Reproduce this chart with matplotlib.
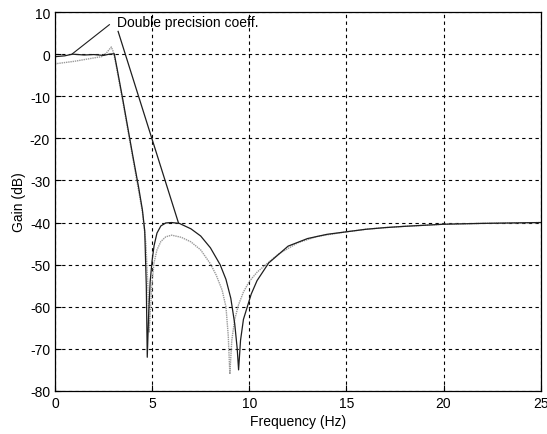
import matplotlib.pyplot as plt

plt.rcParams['font.family'] = ['Liberation Sans', 'DejaVu Sans']
plt.rcParams['axes.unicode_minus'] = False

# double precision coefficients (dark curve)
f_double = [0, 0.5, 0.9, 1.5, 2.0, 2.5, 2.8, 3.05, 3.2, 3.5, 4.0, 4.3, 4.5,
            4.62, 4.7, 4.75, 4.82, 4.9, 5.0, 5.1, 5.25, 5.45, 5.7, 6.0, 6.4,
            7.0, 7.5, 8.0, 8.5, 8.8, 9.05, 9.25, 9.38, 9.45, 9.55, 9.7, 9.9,
            10.1, 10.4, 11.0, 12.0, 13.0, 14.0, 15.0, 16.0, 17.0, 18.0, 20.0,
            22.0, 25.0]
g_double = [-0.6, -0.4, 0.0, -0.2, -0.1, -0.3, 0.0, 0.1, -3.5, -11, -24, -31.5, -37,
            -42, -55, -72, -62, -54, -49, -45.5, -42.5, -40.8, -40.1, -40.0, -40.2,
            -41.5, -43.2, -46.0, -50.0, -53.5, -58, -64, -70, -75, -68, -63, -60,
            -57, -53.8, -49.6, -45.6, -43.8, -42.8, -42.2, -41.6, -41.2, -40.9, -40.4,
            -40.2, -40.0]

# quantized coefficients (light curve)
f_quant = [0, 0.5, 1.0, 1.5, 2.0, 2.4, 2.65, 2.9, 3.0, 3.1, 3.5, 4.0, 4.5,
           4.68, 4.78, 4.85, 4.92, 5.0, 5.1, 5.25, 5.45, 5.7, 6.0, 6.5, 7.0,
           7.5, 8.0, 8.3, 8.6, 8.8, 8.92, 9.0, 9.1, 9.25, 9.45, 9.7, 10.0,
           10.4, 10.9, 11.5, 12.5, 13.5, 15.0, 16.0, 17.0, 18.0, 20.0, 22.0, 25.0]
g_quant = [-2.3, -2.0, -1.7, -1.3, -0.9, -0.6, 0.3, 1.7, 0.6, -1.5, -11.5, -24.5, -37.5,
           -45, -55, -66, -60, -54, -49.5, -46.5, -44.5, -43.4, -43.0, -43.5, -44.6,
           -46.5, -49.8, -52.5, -56, -60, -67, -76, -68, -63, -59.5, -56.5, -54,
           -51.8, -49.8, -47.5, -44.8, -43.3, -42.2, -41.6, -41.2, -40.9, -40.4, -40.2, -40.0]

fig = plt.figure(figsize=(5.47, 4.35), dpi=100)
ax = fig.add_axes([0.1005, 0.099, 0.888, 0.871])

ax.plot(f_quant, g_quant, color='#9a9a9a', lw=1.0, ls=(0, (1, 0.6)))
ax.plot(f_double, g_double, color='#1e1e1e', lw=0.9)

ax.set_xlim(0, 25)
ax.set_ylim(-80, 10)
ax.set_xticks(range(0, 26, 5))
ax.set_yticks(range(-80, 11, 10))
ax.grid(True, color='black', ls=(0, (3, 3)), lw=0.8)
ax.tick_params(direction='in', length=4, labelsize=10, colors='black')
for sp in ax.spines.values():
    sp.set_linewidth(0.9)

ax.set_xlabel('Frequency (Hz)', fontsize=10, labelpad=3)
ax.set_ylabel('Gain (dB)', fontsize=10, labelpad=3)

# label with two leader lines
ax.text(3.2, 7.6, 'Double precision coeff.', fontsize=10, va='center', ha='left')
ax.plot([2.8, 0.9], [7.0, 0.1], color='#1e1e1e', lw=0.8)
ax.plot([3.25, 6.35], [5.4, -40.0], color='#1e1e1e', lw=0.9)

fig.savefig('out.png', dpi=100)
